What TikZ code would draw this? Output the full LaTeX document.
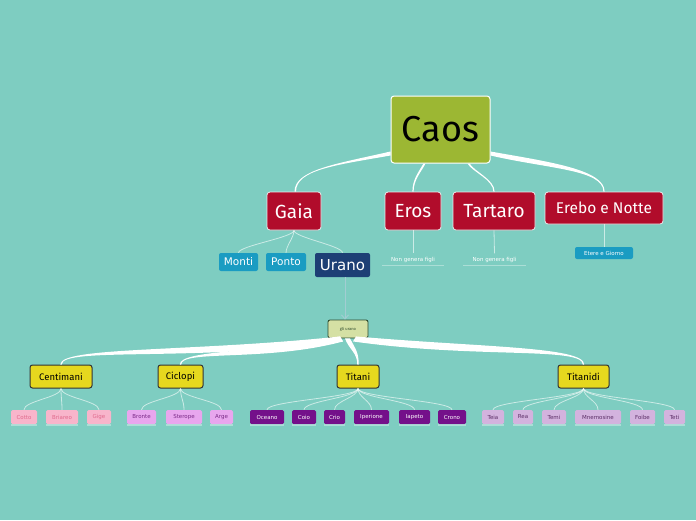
\documentclass[tikz,border=0pt]{standalone}
\usepackage{fontspec}
\setmainfont{Fira Sans}
\newfontfamily\verd{DejaVu Sans}
\usetikzlibrary{arrows.meta}
\definecolor{bgteal}{HTML}{7ECDC1}
\definecolor{caosgreen}{HTML}{9CB733}
\definecolor{godred}{HTML}{B10C2B}
\definecolor{seablue}{HTML}{1A9CC2}
\definecolor{skyblue}{HTML}{1D3F75}
\definecolor{seedgreen}{HTML}{D5E0A4}
\definecolor{seedline}{HTML}{2D4A2D}
\definecolor{groupyellow}{HTML}{E6D81E}
\definecolor{pinkfill}{HTML}{F8B5CB}
\definecolor{pinktext}{HTML}{E0698C}
\definecolor{lilacfill}{HTML}{E8A6EE}
\definecolor{lilactext}{HTML}{7A2A86}
\definecolor{purplefill}{HTML}{74108A}
\definecolor{lavfill}{HTML}{D3B3DE}
\definecolor{lavtext}{HTML}{5B2E66}
\definecolor{linkgray}{HTML}{A2CDD2}
\tikzset{
  root/.style={ % the top box
    draw=white, line width=1pt, fill=caosgreen, rounded corners=3pt,
    minimum width=99pt, minimum height=67pt, inner sep=0pt,
    font=\fontsize{36}{38}\selectfont, text=black
  },
  god/.style={  % red boxes of the first level
    draw=white!85!gray, line width=0.8pt, fill=godred, rounded corners=3pt,
    minimum height=38pt, inner sep=0pt, text=white,
    font=\fontsize{19}{21}\selectfont
  },
  sea/.style={
    fill=seablue, rounded corners=2pt, minimum height=18pt, inner sep=0pt,
    text=white, font=\verd\fontsize{10.5}{12}\selectfont
  },
  sky/.style={
    fill=skyblue, rounded corners=2pt, minimum width=55pt, minimum height=24pt,
    inner sep=0pt, text=white, font=\verd\fontsize{15}{17}\selectfont
  },
  note/.style={
    minimum width=62pt, minimum height=12pt, inner sep=0pt, text=white,
    font=\verd\fontsize{5.5}{7}\selectfont
  },
  seed/.style={
    draw=seedline, line width=0.9pt, fill=seedgreen, rounded corners=2pt,
    minimum width=40pt, minimum height=18pt, inner sep=0pt,
    text=seedline, font=\fontsize{4}{5}\selectfont
  },
  group/.style={ % yellow boxes
    draw=black!80, line width=1pt, fill=groupyellow, rounded corners=2.5pt,
    minimum height=23pt, inner sep=0pt, text=black,
    font=\fontsize{9.5}{11}\selectfont
  },
  leaf/.style={
    rounded corners=1.5pt, minimum height=14pt, inner sep=0pt,
    font=\verd\fontsize{5.5}{7}\selectfont
  },
  pinkleaf/.style={leaf, fill=pinkfill, text=pinktext},
  lilacleaf/.style={leaf, fill=lilacfill, text=lilactext},
  purpleleaf/.style={leaf, fill=purplefill, text=white},
  lavleaf/.style={leaf, fill=lavfill, text=lavtext},
  branch/.style={fill=white},
  twig/.style={draw=white, opacity=0.6, line width=0.8pt},
  base/.style={draw=white, opacity=0.35, line width=1.5pt},
  link/.style={draw=linkgray, line width=0.9pt, -{Straight Barb[length=4pt,width=7pt]}}
}

\begin{document}
\begin{tikzpicture}[x=1pt, y=1pt]

  \fill[bgteal] (0,0) rectangle (696,-520);
  \useasboundingbox (0,0) rectangle (696,-520);

  % first levels
  \node[root] (caos) at (440.5,-129.5) {Caos};
  \node[god, minimum width=54pt] (gaia) at (294,-211) {Gaia};
  \node[god, minimum width=56pt] (eros) at (413,-211) {Eros};
  \node[god, minimum width=82pt] (tartaro) at (494,-211) {Tartaro};
  \node[god, minimum width=118pt, minimum height=32pt,
        font=\fontsize{15.5}{17}\selectfont] (erebo) at (604,-208) {Erebo e Notte};

  \node[sea, minimum width=39pt] (monti) at (238.5,-262) {Monti};
  \node[sea, minimum width=40pt] (ponto) at (286,-262) {Ponto};
  \node[sky] (urano) at (342.5,-265) {Urano};
  \node[note] (nofigli1) at (413,-259.5) {Non genera figli};
  \node[note] (nofigli2) at (494.5,-259.5) {Non genera figli};
  \node[sea, minimum width=58pt, minimum height=12pt,
        font=\verd\fontsize{5.5}{7}\selectfont] (etere) at (604,-253) {Etere e Giorno};

  \node[seed] (gliurano) at (348,-329) {gli urano};

  % children of Urano
  \node[group, minimum width=62pt] (centimani) at (61,-376.5) {Centimani};
  \node[group, minimum width=45pt] (ciclopi) at (180.5,-376.5) {Ciclopi};
  \node[group, minimum width=42pt] (titani) at (358,-376.5) {Titani};
  \node[group, minimum width=51pt] (titanidi) at (583.5,-376.5) {Titanidi};

  % thick branches
  \fill[branch] ([yshift=12]caos.south west) to[out=193,in=90,out distance=55,in distance=22] ([xshift=0.5]gaia.north)
    -- ([xshift=2]gaia.north) to[out=90,in=190,out distance=22,in distance=55] ([yshift=8]caos.south west) -- cycle;
  \fill[branch] ([xshift=33]caos.south west) to[out=-120,in=90,out distance=10,in distance=12] ([xshift=-0.6]eros.north)
    -- ([xshift=0.6]eros.north) to[out=90,in=-117,out distance=12,in distance=10] ([xshift=35]caos.south west) -- cycle;
  \fill[branch] ([xshift=77]caos.south west) to[out=-60,in=90,out distance=10,in distance=12] ([xshift=-0.6]tartaro.north)
    -- ([xshift=0.6]tartaro.north) to[out=90,in=-57,out distance=12,in distance=10] ([xshift=79]caos.south west) -- cycle;
  \fill[branch] ([yshift=12]caos.south east) to[out=-10,in=90,out distance=60,in distance=22] ([xshift=0.6]erebo.north)
    -- ([xshift=-0.6]erebo.north) to[out=90,in=-13,out distance=22,in distance=60] ([yshift=8]caos.south east) -- cycle;

  \fill[branch] ([xshift=-8,yshift=2]gliurano.south) to[out=186,in=90,out distance=150,in distance=18] ([xshift=-0.7]centimani.north)
    -- ([xshift=0.7]centimani.north) to[out=90,in=188,out distance=18,in distance=150] ([xshift=-5,yshift=-3]gliurano.south) -- cycle;
  \fill[branch] ([xshift=-8,yshift=2]gliurano.south) to[out=192,in=90,out distance=80,in distance=15] ([xshift=-0.7]ciclopi.north)
    -- ([xshift=0.7]ciclopi.north) to[out=90,in=195,out distance=15,in distance=80] ([xshift=-5,yshift=-3]gliurano.south) -- cycle;
  \fill[branch] ([xshift=-3]gliurano.south) to[out=-70,in=90,out distance=12,in distance=12] ([xshift=-0.7]titani.north)
    -- ([xshift=0.7]titani.north) to[out=90,in=-62,out distance=12,in distance=12] ([xshift=2]gliurano.south) -- cycle;
  \fill[branch] ([xshift=8,yshift=2]gliurano.south) to[out=-5,in=90,out distance=125,in distance=18] ([xshift=0.7]titanidi.north)
    -- ([xshift=-0.7]titanidi.north) to[out=90,in=-8,out distance=18,in distance=125] ([xshift=5,yshift=-3]gliurano.south) -- cycle;

  % thin connectors
  \foreach \nm in {monti,ponto,urano}
    \draw[twig] (gaia.south) to[out=-90,in=90,out distance=7,in distance=7] (\nm.north);
  \draw[twig] (eros.south) -- (nofigli1.north);
  \draw[twig] (tartaro.south) -- (nofigli2.north);
  \draw[twig] (erebo.south) -- (etere.north);
  \draw[base] (nofigli1.south west) -- (nofigli1.south east);
  \draw[base] (nofigli2.south west) -- (nofigli2.south east);
  \draw[link] ([xshift=2.5]urano.south) -- ([xshift=-3]gliurano.north);

  % leaves
  \foreach \nm/\x/\w/\txt/\kind/\up in {
      cotto/24/26/Cotto/pinkleaf/centimani,
      briareo/62/32/Briareo/pinkleaf/centimani,
      gige/99/24/Gige/pinkleaf/centimani,
      bronte/141.5/29/Bronte/lilacleaf/ciclopi,
      sterope/184/36/Sterope/lilacleaf/ciclopi,
      arge/221.5/23/Arge/lilacleaf/ciclopi,
      oceano/267/34/Oceano/purpleleaf/titani,
      coio/304/24/Coio/purpleleaf/titani,
      crio/334.5/21/Crio/purpleleaf/titani,
      iperione/371.5/35/Iperione/purpleleaf/titani,
      iapeto/414.5/31/Iapeto/purpleleaf/titani,
      crono/452/28/Crono/purpleleaf/titani,
      teia/493/22/Teia/lavleaf/titanidi,
      rea/523/20/Rea/lavleaf/titanidi,
      temi/554/24/Temi/lavleaf/titanidi,
      mnemosine/598/46/Mnemosine/lavleaf/titanidi,
      foibe/642.5/25/Foibe/lavleaf/titanidi,
      teti/674.5/21/Teti/lavleaf/titanidi} {
    \node[\kind, minimum width=\w pt] (\nm) at (\x,-417) {\txt};
    \draw[base] ([yshift=-0.8]\nm.south west) -- ([yshift=-0.8]\nm.south east);
    \draw[twig] (\up.south) to[out=-90,in=90,out distance=9,in distance=9] (\nm.north);
  }

\end{tikzpicture}
\end{document}
